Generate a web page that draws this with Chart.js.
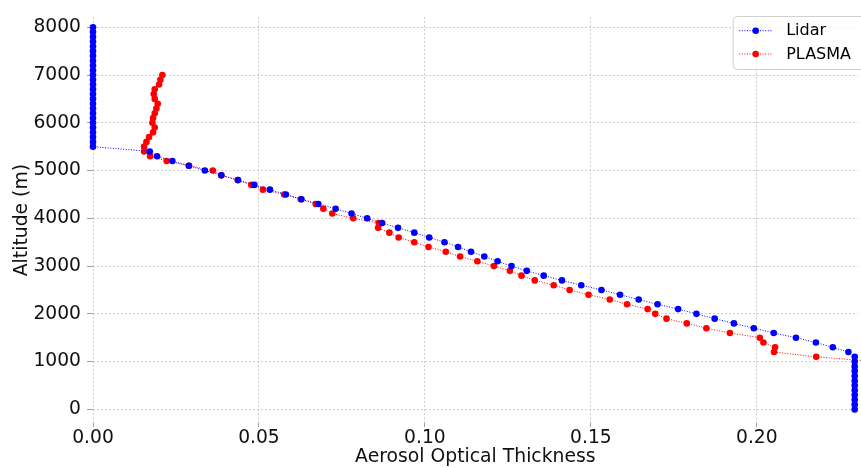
<!DOCTYPE html>
<html>
<head>
<meta charset="utf-8">
<script src="https://cdn.jsdelivr.net/npm/chart.js@4/dist/chart.umd.min.js"></script>
<style>
html,body{margin:0;padding:0;background:#ffffff;}
#wrap{width:861px;height:468px;position:relative;}
</style>
</head>
<body>
<div id="wrap"><canvas id="c" width="861" height="468"></canvas></div>
<script>
// ---- data ----
const lidarAltitude = [0,100,200,300,400,500,600,700,800,900,1000,1100,1200,1300,1400,1500,1600,1700,1800,1900,
  2000,2100,2200,2300,2400,2500,2600,2700,2800,2900,3000,3100,3200,3300,3400,3500,3600,3700,3800,3900,
  4000,4100,4200,4300,4400,4500,4600,4700,4800,4900,5000,5100,5200,5300,5400,5500,5600,5700,5800,5900,
  6000,6100,6200,6300,6400,6500,6600,6700,6800,6900,7000,7100,7200,7300,7400,7500,7600,7700,7800,7900,8000];
const lidarAOT = [0.2295,0.2295,0.2295,0.2295,0.2295,0.2295,0.2295,0.2295,0.2295,0.2295,0.2295,0.2295,
  0.2276,0.2229,0.2178,0.2118,0.2051,0.1991,0.1931,0.1873,
  0.1818,0.1763,0.1701,0.1644,0.1588,0.1532,0.1471,0.1413,0.1358,0.1307,
  0.1261,0.1219,0.1179,0.1139,0.1100,0.1059,0.1013,0.0968,0.0919,0.0871,
  0.0826,0.0779,0.0731,0.0679,0.0628,0.0581,0.0533,0.0486,0.0437,0.0387,
  0.0337,0.0289,0.0239,0.0193,0.0171,0,0,0,0,0,
  0,0,0,0,0,0,0,0,0,0,0,0,0,0,0,0,0,0,0,0,0];
const plasmaAltitude = [1000,1100,1200,1300,1400,1500,1600,1700,1800,1900,
  2000,2100,2200,2300,2400,2500,2600,2700,2800,2900,3000,3100,3200,3300,3400,3500,3600,3700,3800,3900,
  4000,4100,4200,4300,4400,4500,4600,4700,4800,4900,5000,5100,5200,5300,5400,5500,5600,5700,5800,5900,
  6000,6100,6200,6300,6400,6500,6600,6700,6800,6900,7000];
const plasmaAOT = [0.2360,0.2179,0.2052,0.2055,0.2020,0.2009,0.1919,0.1848,0.1789,0.1728,
  0.1694,0.1671,0.1609,0.1557,0.1493,0.1436,0.1388,0.1331,0.1291,0.1256,
  0.1208,0.1158,0.1106,0.1063,0.1011,0.0968,0.0921,0.0893,0.0859,0.0861,
  0.0784,0.0721,0.0694,0.0671,0.0626,0.0576,0.0512,0.0477,0.0436,0.0386,
  0.0361,0.0289,0.0222,0.0172,0.0154,0.0154,0.0161,0.0169,0.0181,0.0186,
  0.0179,0.0181,0.0186,0.0191,0.0195,0.0186,0.0183,0.0186,0.0199,0.0203,0.0209];
const xTickValues = [0, 0.05, 0.10, 0.15, 0.20];
const yTickValues = [0,1000,2000,3000,4000,5000,6000,7000,8000];
const seriesNames = ['Lidar','PLASMA'];
const seriesColors = ['#0000ff','#ff0000'];

// ---- chart ----
const FONT = 'DejaVu Sans';
const tickFont = {family: FONT, size: 18.7};
const gridOpts = {color:'#c8c8c8', lineWidth:0.9, tickColor:'#a0a0a0', tickWidth:1, tickBorderDash:[]};

const boxLegend = {
  id: 'boxLegend',
  afterDraw(chart) {
    const ctx = chart.ctx, a = chart.chartArea;
    const x0 = a.right - 124.5, y0 = 16.5, w = 140, h = 53;
    ctx.save();
    ctx.beginPath();
    ctx.roundRect(x0, y0, w, h, 4);
    ctx.fillStyle = 'rgba(255,255,255,0.8)';
    ctx.fill();
    ctx.strokeStyle = '#d0d0d0';
    ctx.lineWidth = 1;
    ctx.stroke();
    chart.data.datasets.forEach((ds, i) => {
      const y = y0 + 14.2 + i * 23.3;
      ctx.strokeStyle = ds.borderColor;
      ctx.lineWidth = 1;
      ctx.setLineDash([1, 1.6]);
      ctx.beginPath(); ctx.moveTo(x0 + 6, y); ctx.lineTo(x0 + 39, y); ctx.stroke();
      ctx.setLineDash([]);
      ctx.fillStyle = ds.backgroundColor;
      ctx.beginPath(); ctx.arc(x0 + 22.5, y, 3.3, 0, Math.PI * 2); ctx.fill();
      ctx.fillStyle = '#000000';
      ctx.font = '16px "' + FONT + '"';
      ctx.textBaseline = 'middle';
      ctx.textAlign = 'left';
      ctx.fillText(ds.label, x0 + 53, y + 0.5);
    });
    ctx.restore();
  }
};

function makeSet(name, color, xs, ys) {
  return {
    label: name,
    data: ys.map((h, i) => ({x: xs[i], y: h})),
    showLine: true,
    borderColor: color,
    backgroundColor: color,
    borderWidth: 1,
    borderDash: [1, 1.6],
    pointRadius: 3.3,
    pointBorderWidth: 0,
    pointHoverRadius: 3.3,
    tension: 0,
    clip: false
  };
}

new Chart(document.getElementById('c'), {
  type: 'scatter',
  data: {
    datasets: [
      makeSet(seriesNames[0], seriesColors[0], lidarAOT, lidarAltitude),
      makeSet(seriesNames[1], seriesColors[1], plasmaAOT, plasmaAltitude)
    ]
  },
  options: {
    responsive: false,
    animation: false,
    devicePixelRatio: 1,
    layout: {padding: {top: 9, right: 0, left: 0, bottom: 0}},
    plugins: {legend: {display: false}, tooltip: {enabled: false}},
    scales: {
      x: {
        type: 'linear', min: 0, max: 0.2304,
        afterBuildTicks: s => { s.ticks = xTickValues.map(v => ({value: v})); },
        afterFit: s => { s.height = 45; },
        ticks: {font: tickFont, color: '#111', padding: 0, maxRotation: 0, autoSkip: false,
                callback: v => Number(v).toFixed(2)},
        grid: Object.assign({tickLength: 4}, gridOpts),
        border: {display: false, dash: [2, 2]},
        title: {display: true, text: 'Aerosol Optical Thickness', color: '#111',
                font: {family: FONT, size: 18.8}, padding: {top: 0, bottom: 0}}
      },
      y: {
        type: 'linear', min: -285, max: 8210,
        afterBuildTicks: s => { s.ticks = yTickValues.map(v => ({value: v})); },
        afterFit: s => { s.width = 93; },
        ticks: {font: tickFont, color: '#111', padding: 6, autoSkip: false,
                callback: v => String(v)},
        grid: Object.assign({tickLength: 6}, gridOpts),
        border: {display: false, dash: [2, 2]},
        title: {display: true, text: 'Altitude (m)', color: '#111',
                font: {family: FONT, size: 18.8}, padding: {top: 11, bottom: 0}}
      }
    }
  },
  plugins: [boxLegend]
});
</script>
</body>
</html>
